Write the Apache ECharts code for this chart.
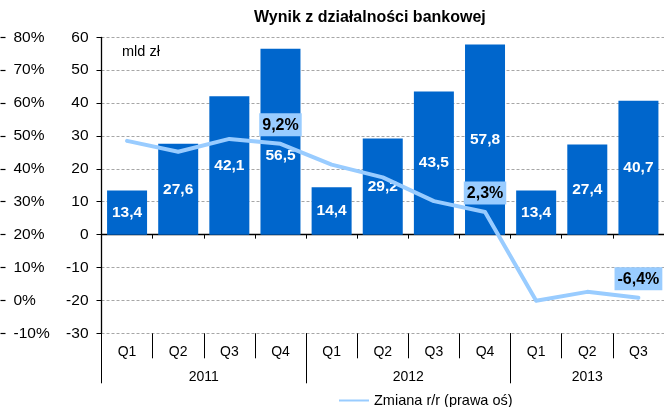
<!DOCTYPE html>
<html>
<head>
<meta charset="utf-8">
<script src="https://cdn.jsdelivr.net/npm/echarts@6/dist/echarts.min.js"></script>
<style>
  html, body { margin: 0; padding: 0; background: #fff; }
  #chart { width: 664px; height: 407px; }
</style>
</head>
<body>
<div id="chart"></div>
<script>
// Quarterly banking result (bn PLN) and year-on-year change
const quarters = ['Q1', 'Q2', 'Q3', 'Q4', 'Q1', 'Q2', 'Q3', 'Q4', 'Q1', 'Q2', 'Q3'];
const years = ['2011', '2012', '2013'];
const yearBounds = [0, 4, 8, 11];      // quarter index where each year starts/ends
const yearCenters = [2, 6, 9.5];       // label position for each year
const result = [13.4, 27.6, 42.1, 56.5, 14.4, 29.2, 43.5, 57.8, 13.4, 27.4, 40.7];
const change = [9.5, 8.4, 9.7, 9.2, 7.1, 5.8, 3.4, 2.3, -6.7, -5.8, -6.4];
const changeLabelled = [3, 7, 10];     // points that carry a value tag
const leftTicks = { min: -30, max: 60, interval: 10 };
const pctTicks = { min: -10, max: 80, interval: 10 };
const lineScale = { min: -10, max: 20 };

const FONT = "'Liberation Sans', Arial, sans-serif";
const LINE_COLOR = '#99CCFF';
const fmt = v => v.toFixed(1).replace('.', ',');

const chart = echarts.init(document.getElementById('chart'));

const lineData = change.map((v, i) => (
  changeLabelled.includes(i) ? { value: v, label: { show: true } } : { value: v }
));

chart.setOption({
  animation: false,
  textStyle: { fontFamily: FONT },
  title: [
    {
      text: 'Wynik z działalności bankowej',
      left: 249, top: 5,
      textStyle: { fontFamily: FONT, fontSize: 16, fontWeight: 'bold', color: '#000' }
    },
    {
      text: 'mld zł',
      left: 117, top: 39,
      textStyle: { fontFamily: FONT, fontSize: 14.5, fontWeight: 'normal', color: '#000' }
    }
  ],
  legend: {
    left: 334, top: 388,
    itemWidth: 30, itemHeight: 10,
    itemGap: 4,
    textStyle: { fontFamily: FONT, fontSize: 14.5, color: '#000' },
    data: [{
      name: 'Zmiana r/r (prawa oś)',
      icon: 'path://M0,4 L30,4 L30,6 L0,6 Z',
      itemStyle: { color: LINE_COLOR, opacity: 1 }
    }]
  },
  grid: { left: 101.5, top: 37.3, width: 565.5, height: 296, containLabel: false },
  xAxis: [
    {
      type: 'category',
      data: quarters,
      position: 'bottom',
      axisLine: { onZero: true, onZeroAxisIndex: 0, lineStyle: { color: '#000', width: 1.3 } },
      axisTick: { show: true, length: 4, lineStyle: { color: '#000' } },
      axisLabel: { show: false },
      splitLine: { show: false }
    },
    {
      type: 'category',
      data: quarters,
      position: 'bottom',
      axisLine: { show: false, onZero: false },
      axisTick: { show: true, interval: 0, length: 25, lineStyle: { color: '#000' } },
      axisLabel: { show: true, interval: 0, margin: 12, fontFamily: FONT, fontSize: 14, color: '#000' },
      splitLine: { show: false }
    },
    {
      type: 'value',
      min: 0, max: quarters.length,
      position: 'bottom',
      axisLine: { show: false, onZero: false },
      axisTick: { show: true, customValues: yearBounds, length: 50, lineStyle: { color: '#000' } },
      axisLabel: {
        show: true,
        customValues: yearCenters,
        margin: 37,
        fontFamily: FONT, fontSize: 14, color: '#000',
        formatter: v => years[yearCenters.indexOf(v)] || ''
      },
      splitLine: { show: false }
    }
  ],
  yAxis: [
    {
      type: 'value',
      min: leftTicks.min, max: leftTicks.max, interval: leftTicks.interval,
      position: 'left',
      axisLine: { show: true, onZero: false, lineStyle: { color: '#000', width: 1.3 } },
      axisTick: { show: true, length: 5, lineStyle: { color: '#000' } },
      axisLabel: { margin: 13, fontFamily: FONT, fontSize: 15.5, color: '#000' },
      splitLine: { show: true, lineStyle: { color: '#a6a6a6', type: [3, 2], width: 1 } }
    },
    {
      type: 'value',
      min: pctTicks.min, max: pctTicks.max, interval: pctTicks.interval,
      position: 'left',
      offset: 96,
      axisLine: { show: false, onZero: false },
      axisTick: { show: true, length: 5, lineStyle: { color: '#000', width: 1.2 } },
      axisLabel: {
        inside: true, margin: 8, align: 'left',
        fontFamily: FONT, fontSize: 15.5, color: '#000',
        formatter: v => v + '%'
      },
      splitLine: { show: false }
    },
    {
      type: 'value',
      min: lineScale.min, max: lineScale.max,
      show: false,
      axisLine: { onZero: false },
      splitLine: { show: false }
    }
  ],
  series: [
    {
      name: 'Wynik',
      type: 'bar',
      xAxisIndex: 0, yAxisIndex: 0,
      data: result,
      barWidth: 40,
      itemStyle: { color: '#0066CC' },
      label: {
        show: true, position: 'inside', offset: [0, 2],
        fontFamily: FONT, fontSize: 15.5, fontWeight: 'bold', color: '#fff',
        formatter: p => fmt(p.value)
      },
      labelLayout: p => (p.dataIndex === 3 ? { dy: 14 } : {}),
      z: 2
    },
    {
      name: 'Zmiana r/r (prawa oś)',
      type: 'line',
      xAxisIndex: 0, yAxisIndex: 2,
      data: lineData,
      symbol: 'circle',
      symbolSize: 3,
      showSymbol: true,
      lineStyle: { color: LINE_COLOR, width: 4, cap: 'round', join: 'round' },
      itemStyle: { color: LINE_COLOR },
      label: {
        show: false, position: 'top', distance: 6,
        backgroundColor: LINE_COLOR,
        padding: [4, 3, 3, 3],
        fontFamily: FONT, fontSize: 16, fontWeight: 'bold', color: '#000',
        formatter: p => fmt(p.value) + '%'
      },
      emphasis: { disabled: true },
      z: 3
    }
  ]
});
</script>
</body>
</html>
